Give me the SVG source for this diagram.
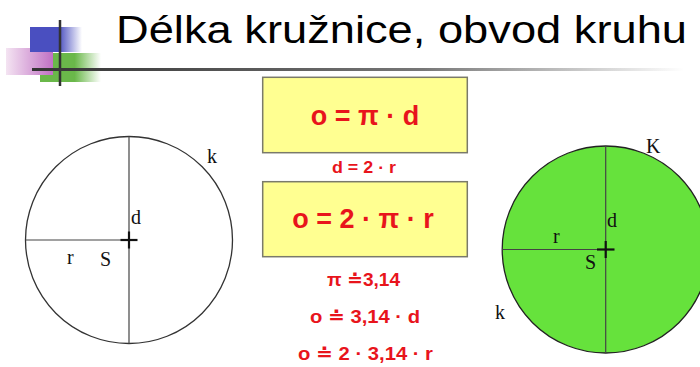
<svg xmlns="http://www.w3.org/2000/svg" width="700" height="367" viewBox="0 0 700 367">
  <defs>
    <linearGradient id="rule" x1="0" y1="0" x2="1" y2="0">
      <stop offset="0" stop-color="#333"/>
      <stop offset="0.6" stop-color="#777"/>
      <stop offset="1" stop-color="#fff"/>
    </linearGradient>
    <linearGradient id="blue" x1="0" y1="0" x2="1" y2="0">
      <stop offset="0" stop-color="#4a4fc0"/>
      <stop offset="0.55" stop-color="#4a4fc0"/>
      <stop offset="1" stop-color="#4a4fc0" stop-opacity="0"/>
    </linearGradient>
    <linearGradient id="pink" x1="0" y1="0" x2="1" y2="0">
      <stop offset="0" stop-color="#f4e4f2"/>
      <stop offset="1" stop-color="#c070c4"/>
    </linearGradient>
    <linearGradient id="green" x1="0" y1="0" x2="1" y2="0">
      <stop offset="0" stop-color="#6ab84a"/>
      <stop offset="0.45" stop-color="#6ab84a"/>
      <stop offset="1" stop-color="#6ab84a" stop-opacity="0"/>
    </linearGradient>
    <style>
      .title{font-family:"Liberation Sans",Arial,sans-serif;font-size:38px;fill:#000}
      .box{fill:#ffff91;stroke:#7a7a6a;stroke-width:1.5}
      .big{font-family:"Liberation Sans",Arial,"DejaVu Sans",sans-serif;font-weight:bold;font-size:27px;fill:#e8141c;text-anchor:middle}
      .small{font-family:"Liberation Sans",Arial,"DejaVu Sans",sans-serif;font-weight:bold;font-size:16px;fill:#e8141c}
      .mid{font-family:"Liberation Sans",Arial,"DejaVu Sans",sans-serif;font-weight:bold;font-size:18px;fill:#e8141c}
      .lbl{font-family:"Liberation Serif","DejaVu Serif",serif;font-size:20px;fill:#111}
      .geo{stroke:#444;stroke-width:1.2;fill:none}
      .cross{stroke:#111;stroke-width:2.2}
    </style>
  </defs>

  <g id="logo">
    <rect x="6" y="48" width="47" height="27" fill="url(#pink)"/>
    <rect x="30" y="27" width="52" height="25" fill="url(#blue)"/>
    <rect x="53" y="53" width="48" height="29" fill="url(#green)"/>
    <rect x="40" y="75" width="13" height="7" fill="#6ab84a"/>
    <line x1="60" y1="20" x2="60" y2="86" stroke="#333" stroke-width="2.5"/>
  </g>
  <g id="title">
    <text class="title" x="116" y="43" textLength="571" lengthAdjust="spacingAndGlyphs">Délka kružnice, obvod kruhu</text>
    <rect x="32" y="68" width="652" height="3" fill="url(#rule)"/>
  </g>

  <g id="circle-left">
    <circle cx="129" cy="240" r="103.5" fill="#fff" stroke="#333" stroke-width="1.3"/>
    <line class="geo" x1="129" y1="136.5" x2="129" y2="343.5"/>
    <line class="geo" x1="25.5" y1="240" x2="129" y2="240"/>
    <line class="cross" x1="120.5" y1="240" x2="137.5" y2="240"/>
    <line class="cross" x1="129" y1="231.5" x2="129" y2="248.5"/>
    <text class="lbl" x="207" y="163">k</text>
    <text class="lbl" x="131" y="224">d</text>
    <text class="lbl" x="67" y="264">r</text>
    <text class="lbl" x="100" y="266">S</text>
  </g>

  <g id="circle-right">
    <circle cx="605.7" cy="249.5" r="103.5" fill="#66e23c" stroke="#222" stroke-width="1.3"/>
    <line class="geo" x1="605.7" y1="146" x2="605.7" y2="353"/>
    <line class="geo" x1="502.2" y1="249.5" x2="605.7" y2="249.5"/>
    <line class="cross" x1="597" y1="249.5" x2="614.5" y2="249.5"/>
    <line class="cross" x1="605.7" y1="241" x2="605.7" y2="258"/>
    <text class="lbl" x="646" y="153">K</text>
    <text class="lbl" x="607" y="227">d</text>
    <text class="lbl" x="553" y="243">r</text>
    <text class="lbl" x="585" y="269">S</text>
    <text class="lbl" x="495" y="319">k</text>
  </g>

  <g id="formula-1">
    <rect class="box" x="262.7" y="77.3" width="204.6" height="75.4"/>
    <text class="big" x="365" y="125">o = π · d</text>
  </g>
  <g id="formula-d">
    <text class="small" x="332" y="173" textLength="64" lengthAdjust="spacingAndGlyphs">d = 2 · r</text>
  </g>
  <g id="formula-2">
    <rect class="box" x="262.7" y="181.7" width="204.6" height="75"/>
    <text class="big" x="363" y="228">o = 2 · π · r</text>
  </g>
  <g id="approx">
    <text class="mid" x="327" y="286" textLength="73" lengthAdjust="spacingAndGlyphs">π ≐3,14</text>
    <text class="mid" x="310" y="323" textLength="110" lengthAdjust="spacingAndGlyphs">o ≐ 3,14 · d</text>
    <text class="mid" x="298" y="360" textLength="135" lengthAdjust="spacingAndGlyphs">o ≐ 2 · 3,14 · r</text>
  </g>
</svg>
